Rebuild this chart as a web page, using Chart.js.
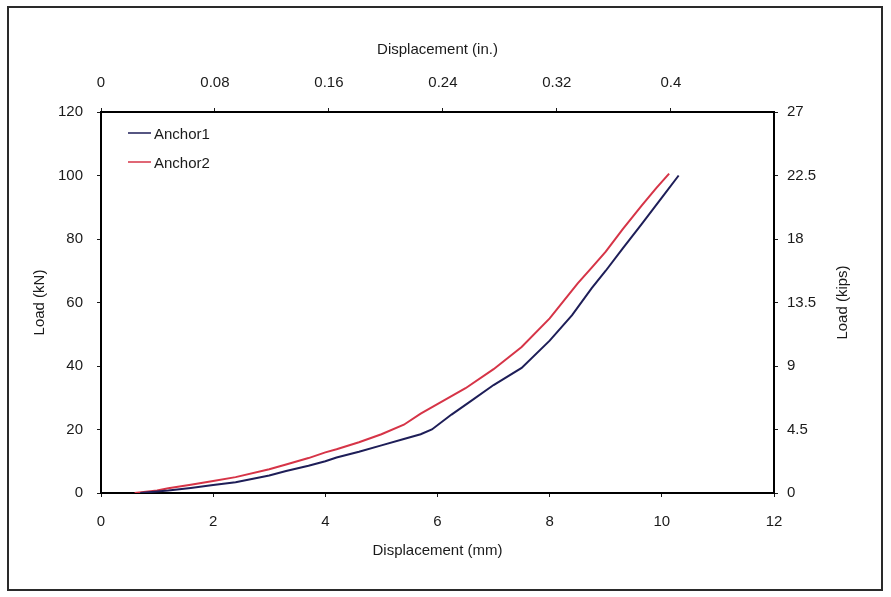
<!DOCTYPE html>
<html><head><meta charset="utf-8">
<script src="https://cdn.jsdelivr.net/npm/chart.js@4/dist/chart.umd.min.js"></script>
<style>html,body{margin:0;padding:0;background:#fff}</style>
</head><body>
<canvas id="c" width="891" height="597" style="width:891px;height:597px;display:block"></canvas>
<script>
// ---- data ----
const seriesLabels = ['Anchor1', 'Anchor2'];
const anchor1Disp = [0.7, 1.2, 1.6, 2.0, 2.4, 3.0, 3.3, 3.7, 4.0, 4.2, 4.6, 5.0, 5.4, 5.7, 5.9, 6.25, 6.6, 7.0, 7.5, 8.0, 8.4, 8.75, 9.0, 9.3, 9.64, 10.0, 10.3];
const anchor1Load = [0, 0.8, 1.6, 2.5, 3.4, 5.5, 6.9, 8.6, 10.0, 11.2, 13.0, 15.0, 17.0, 18.5, 20.0, 24.7, 29.0, 34.0, 39.4, 48.0, 56.0, 64.5, 70.0, 77.0, 84.7, 93.0, 100.0];
const anchor2Disp = [0.6, 1.0, 1.2, 1.6, 2.0, 2.4, 3.0, 3.3, 3.7, 4.0, 4.2, 4.6, 5.0, 5.4, 5.7, 6.1, 6.5, 7.0, 7.5, 8.0, 8.5, 8.75, 9.0, 9.3, 9.64, 9.9, 10.13];
const anchor2Load = [0, 0.8, 1.5, 2.6, 3.8, 5.0, 7.5, 9.0, 11.0, 12.8, 13.8, 16.0, 18.5, 21.5, 25.0, 29.0, 33.0, 39.0, 46.0, 55.0, 66.0, 71.0, 76.0, 83.0, 90.5, 96.0, 100.6];

const mmTicks = [0, 2, 4, 6, 8, 10, 12];
const inTicks = [0, 0.08, 0.16, 0.24, 0.32, 0.4];
const kNTicks = [0, 20, 40, 60, 80, 100, 120];
const kipsTicks = [0, 4.5, 9, 13.5, 18, 22.5, 27];
const xTitle = 'Displacement (mm)';
const x2Title = 'Displacement (in.)';
const yTitle = 'Load (kN)';
const y2Title = 'Load (kips)';

const seriesColors = ['#1e1e58', '#d63447'];
const tickFont = {family: "'Liberation Sans Narrow', 'Liberation Sans', Arial, sans-serif", size: 15};
const titleFont = {family: "'Liberation Sans', Arial, sans-serif", size: 15};
const ink = '#1a1a1a';

function toPts(xs, ys) { return xs.map((x, i) => ({x: x, y: ys[i]})); }
function fixTicks(arr) { return s => { s.ticks = arr.map(v => ({value: v})); }; }
function fmt(v) { return String(+(+v).toFixed(2)); }

const framePlugin = {
  id: 'frame',
  beforeDraw(chart) {
    const ctx = chart.ctx;
    ctx.save();
    ctx.fillStyle = '#fff';
    ctx.fillRect(0, 0, chart.width, chart.height);
    ctx.strokeStyle = '#2a2a2a';
    ctx.lineWidth = 2;
    ctx.strokeRect(8, 7, 874, 583);
    ctx.restore();
  },
  afterDraw(chart) {
    const ctx = chart.ctx;
    const a = chart.chartArea;
    ctx.save();
    // right axis title, reading bottom-to-top
    ctx.font = `${titleFont.size}px ${titleFont.family}`;
    ctx.fillStyle = ink;
    ctx.textAlign = 'center';
    ctx.textBaseline = 'middle';
    ctx.translate(843, (a.top + a.bottom) / 2);
    ctx.rotate(-Math.PI / 2);
    ctx.fillText(y2Title, 0, 0);
    ctx.restore();
    // legend
    ctx.save();
    ctx.font = `15px ${titleFont.family}`;
    ctx.textBaseline = 'middle';
    ctx.textAlign = 'left';
    chart.data.datasets.forEach((ds, i) => {
      const y = a.top + 21 + i * 29;
      ctx.strokeStyle = ds.borderColor;
      ctx.lineWidth = 1.5;
      ctx.beginPath();
      ctx.moveTo(a.left + 27, y);
      ctx.lineTo(a.left + 50, y);
      ctx.stroke();
      ctx.fillStyle = ink;
      ctx.fillText(ds.label, a.left + 53, y + 2);
    });
    ctx.restore();
  }
};

const axisGrid = {drawOnChartArea: false, drawTicks: true, tickLength: 4, color: ink, lineWidth: 1};
const axisBorder = {display: true, color: '#000', width: 2};

new Chart(document.getElementById('c'), {
  type: 'scatter',
  data: {
    datasets: [
      {label: seriesLabels[0], data: toPts(anchor1Disp, anchor1Load), borderColor: seriesColors[0], backgroundColor: seriesColors[0], showLine: true, pointRadius: 0, borderWidth: 2, tension: 0, xAxisID: 'x', yAxisID: 'y'},
      {label: seriesLabels[1], data: toPts(anchor2Disp, anchor2Load), borderColor: seriesColors[1], backgroundColor: seriesColors[1], showLine: true, pointRadius: 0, borderWidth: 2, tension: 0, xAxisID: 'x', yAxisID: 'y'}
    ]
  },
  options: {
    responsive: false,
    animation: false,
    devicePixelRatio: 1,
    layout: {padding: 0},
    plugins: {legend: {display: false}, tooltip: {enabled: false}},
    scales: {
      x: {
        type: 'linear', position: 'bottom', min: 0, max: 12,
        afterBuildTicks: fixTicks(mmTicks),
        afterFit: s => { s.height = 104; },
        grid: axisGrid, border: axisBorder,
        ticks: {font: tickFont, color: ink, padding: 16, maxRotation: 0, callback: fmt},
        title: {display: true, text: xTitle, font: titleFont, color: ink, padding: {top: 0, bottom: 37}}
      },
      x2: {
        type: 'linear', position: 'top', min: 0, max: 12 / 25.4,
        afterBuildTicks: fixTicks(inTicks),
        afterFit: s => { s.height = 112; },
        grid: axisGrid, border: axisBorder,
        ticks: {font: tickFont, color: ink, padding: 16, maxRotation: 0, callback: fmt},
        title: {display: true, text: x2Title, font: titleFont, color: ink, padding: {top: 41, bottom: 0}}
      },
      y: {
        type: 'linear', position: 'left', min: 0, max: 120,
        afterBuildTicks: fixTicks(kNTicks),
        afterFit: s => { s.width = 101; },
        grid: axisGrid, border: axisBorder,
        ticks: {font: tickFont, color: ink, padding: 14, callback: fmt},
        title: {display: true, text: yTitle, font: titleFont, color: ink, padding: {top: 31, bottom: 0}}
      },
      y2: {
        type: 'linear', position: 'right', min: 0, max: 27,
        afterBuildTicks: fixTicks(kipsTicks),
        afterFit: s => { s.width = 117; },
        grid: axisGrid, border: axisBorder,
        ticks: {font: tickFont, color: ink, padding: 9, callback: fmt},
        title: {display: false}
      }
    }
  },
  plugins: [framePlugin]
});
</script>
</body></html>
